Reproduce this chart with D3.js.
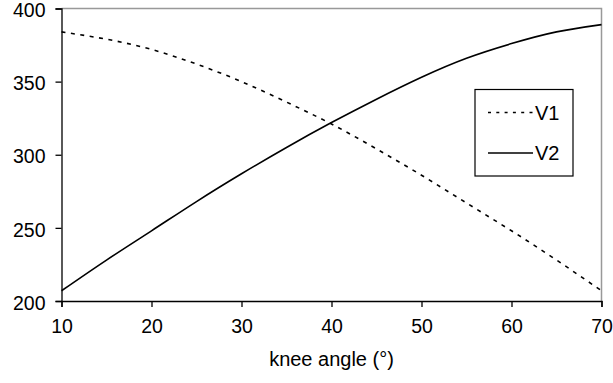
<!DOCTYPE html>
<html lang="en">
<head>
<meta charset="utf-8">
<title>knee angle</title>
<script src="https://cdn.jsdelivr.net/npm/d3@7"></script>
<style>
  body { margin: 0; background: #fff; }
  text { font-family: "Liberation Sans", Arial, sans-serif; fill: #000; }
  .tick text { font-size: 19.5px; }
</style>
</head>
<body>
<div id="chart"></div>
<script>

// knee angle in degrees
var angles = [10, 15, 20, 25, 30, 35, 40, 45, 50, 55, 60, 65, 70];

// series values
var v1 = [384, 379, 372, 362, 350, 336, 321, 304, 286, 267, 248, 228, 207];
var v2 = [207, 228, 248, 268, 287, 305, 322, 338, 353, 366, 376, 384, 389];

var seriesNames = ["V1", "V2"];
var xTicks = [10, 20, 30, 40, 50, 60, 70];
var yTicks = [200, 250, 300, 350, 400];

var W = 613, H = 383;
var margin = {top: 8.5, right: 11.5, bottom: 82, left: 61.5};
var width = W - margin.left - margin.right,
    height = H - margin.top - margin.bottom;

var svg = d3.select("#chart")
  .append("svg")
  .attr("width", W)
  .attr("height", H);

var g = svg.append("g")
  .attr("transform", "translate(" + margin.left + "," + margin.top + ")");

var x = d3.scaleLinear().domain([10, 70]).range([0, width]);
var y = d3.scaleLinear().domain([200, 400]).range([height, 0]);

// grey frame on top and right
g.append("path")
  .attr("d", "M0,0H" + width + "V" + height)
  .attr("fill", "none")
  .attr("stroke", "#999")
  .attr("stroke-width", 1.5);

// axes
var xAxis = g.append("g")
  .attr("transform", "translate(0," + height + ")")
  .call(d3.axisBottom(x).tickValues(xTicks).tickSize(6).tickPadding(12));

var yAxis = g.append("g")
  .call(d3.axisLeft(y).tickValues(yTicks).tickSize(6).tickPadding(10));

[xAxis, yAxis].forEach(function(a) {
  a.select(".domain").attr("stroke", "#000").attr("stroke-width", 1.3);
  a.selectAll(".tick line").attr("stroke", "#000").attr("stroke-width", 1.3);
  a.selectAll(".tick text").attr("font-family", null).attr("font-size", null);
});
yAxis.selectAll(".tick text").attr("dy", "0.42em");

// lines
var line = d3.line()
  .x(function(d) { return x(d[0]); })
  .y(function(d) { return y(d[1]); })
  .curve(d3.curveNatural);

var series = [
  {name: seriesNames[0], values: d3.zip(angles, v1), dash: "4,5.5"},
  {name: seriesNames[1], values: d3.zip(angles, v2), dash: null}
];

g.selectAll("path.series")
  .data(series)
  .enter()
  .append("path")
  .attr("class", "series")
  .attr("d", function(d) { return line(d.values); })
  .attr("fill", "none")
  .attr("stroke", "#000")
  .attr("stroke-width", 1.6)
  .attr("stroke-dasharray", function(d) { return d.dash; });

// axis title
svg.append("text")
  .attr("x", margin.left + width / 2)
  .attr("y", 366)
  .attr("text-anchor", "middle")
  .style("font-size", "20px")
  .text("knee angle (°)");

// legend
var legend = svg.append("g").attr("transform", "translate(475,89.5)");
legend.append("rect")
  .attr("width", 98)
  .attr("height", 86.5)
  .attr("fill", "#fff")
  .attr("stroke", "#000")
  .attr("stroke-width", 1.2);

var items = legend.selectAll("g.item")
  .data(series)
  .enter()
  .append("g")
  .attr("class", "item")
  .attr("transform", function(d, i) { return "translate(0," + (23 + i * 40.5) + ")"; });

items.append("line")
  .attr("x1", 13).attr("x2", 58)
  .attr("stroke", "#000")
  .attr("stroke-width", 1.5)
  .attr("stroke-dasharray", function(d) { return d.dash ? "3,5.3" : null; });

items.append("text")
  .attr("x", 60)
  .attr("dy", "0.36em")
  .style("font-size", "20px")
  .text(function(d) { return d.name; });

</script>
</body>
</html>
